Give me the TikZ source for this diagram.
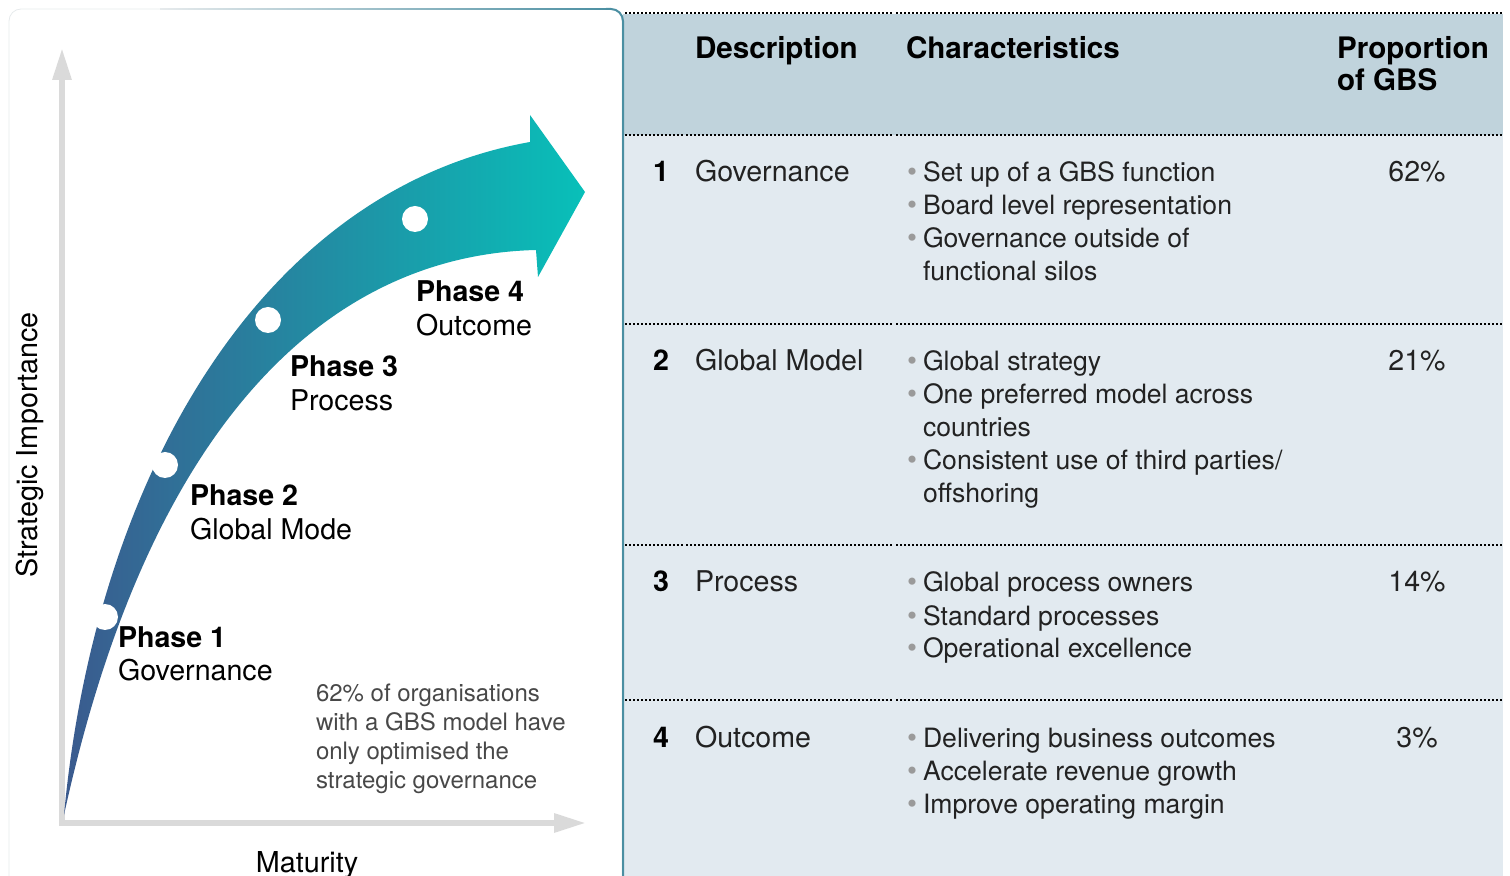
\documentclass[tikz,border=0pt]{standalone}
\usepackage{fontspec}
\setmainfont{TeX Gyre Heros}
\usetikzlibrary{arrows.meta}
\usetikzlibrary{positioning}

\definecolor{axisgray}{HTML}{DADADA}
\definecolor{curvestart}{HTML}{3B5A8E}
\definecolor{curveend}{HTML}{08C0B9}
\definecolor{headfill}{HTML}{C0D3DC}
\definecolor{bodyfill}{HTML}{E2EAF0}
\definecolor{edgeteal}{HTML}{4B8FA2}
\definecolor{panelline}{HTML}{E6EAEC}
\definecolor{dotgray}{HTML}{9A9A9A}
\definecolor{notegray}{HTML}{484848}
\definecolor{bodytext}{HTML}{222222}

\newcommand{\bul}{\makebox[8pt][l]{\textcolor{dotgray}{\fontsize{14.3}{16.5}\selectfont•}}}
\newcommand{\cont}{\hspace*{8pt}}

\begin{document}
\begin{tikzpicture}[
  x=0.5pt, y=-0.5pt,
  every node/.style={inner sep=0, outer sep=0},
  % multi-line nodes sit on the baseline of their last line
  txt/.style={font=\fontsize{14.3}{16.5}\selectfont, text=bodytext, anchor=base west, align=left},
  items/.style={txt, font=\fontsize{13.3}{16.5}\selectfont},
  hdr/.style={font=\fontsize{14.8}{16}\selectfont\bfseries, anchor=base west, align=left},
  num/.style={font=\fontsize{14.3}{16.5}\selectfont\bfseries, anchor=base},
  pct/.style={txt, anchor=base},
  phase/.style={font=\fontsize{14.3}{17}\selectfont, anchor=base west, align=left},
  note/.style={font=\fontsize{12}{14.5}\selectfont, text=notegray, anchor=base west, align=left},
  axislabel/.style={font=\fontsize{14.4}{16}\selectfont},
  phasedot/.style={circle, fill=white, minimum size=13pt},
  axisline/.style={draw=axisgray, line width=3pt, {Triangle[length=16pt,width=9pt]}-{Triangle[length=16pt,width=9pt]}},
  rowrule/.style={dash pattern=on 1pt off 1pt, line width=1pt}
  ] %
    \useasboundingbox (0,0) rectangle (1510,876);
    % left panel
    \draw[panelline, rounded corners=6pt] (9,9) rectangle (622,900);
    \shade[left color=panelline, right color=edgeteal] (160,8.3) rectangle (612,9.7);
    % table
    \fill[headfill] (623,14) rectangle (1503,135);
    \fill[bodyfill] (623,135) rectangle (1503,876);
    \draw[edgeteal, line width=1pt, rounded corners=6pt] (606,9) -- (623,9) -- (623,880);
    \foreach \y in {13,135,324,545,700} {
      \draw[rowrule] (625,\y) -- (684,\y);
      \draw[rowrule] (686,\y) -- (894,\y);
      \draw[rowrule] (896,\y) -- (1326,\y);
      \draw[rowrule] (1328,\y) -- (1503,\y);
    }

    % axes
    \coordinate (origin) at (62,823);
    \coordinate (ytop) at (62,48);
    \coordinate (xend) at (586,823);
    \draw[axisline] (ytop) -- (origin) -- (xend);
    \node[axislabel, rotate=90] (ylab) at (30,445) {Strategic Importance};
    \node[axislabel, anchor=base] (xlab) at (307,872) {Maturity};

    % growth arrow
    \shade[left color=curvestart, right color=curveend]
      (64,815) .. controls (95,480) and (260,190) .. (530,142)
      -- (530,115) -- (585,192) -- (538,277) -- (536,250)
      .. controls (330,255) and (150,420) .. (64,815) -- cycle;
    \node[phasedot] (d1) at (105,617) {};
    \node[phasedot] (d2) at (165,465) {};
    \node[phasedot] (d3) at (268,320) {};
    \node[phasedot] (d4) at (415,219) {};

    \node[phase] (ph1) at (118,681) {\textbf{Phase 1}\\Governance};
    \node[phase] (ph2) at (190,540) {\textbf{Phase 2}\\Global Mode};
    \node[phase] (ph3) at (290,411) {\textbf{Phase 3}\\Process};
    \node[phase] (ph4) at (416,336) {\textbf{Phase 4}\\Outcome};
    \node[note] (remark) at (316,788) {62\% of organisations\\with a GBS model have\\only optimised the\\strategic governance};

    % header row
    \node[hdr] (hdesc) at (695,59) {Description};
    \node[hdr] (hchar) at (906,59) {Characteristics};
    \node[hdr] (hprop) at (1337,91) {Proportion\\of GBS};

    % rows
    \node[num] (n1) at (661,182) {1};
    \node[txt] (r1) at (695,182) {Governance};
    \node[items] (c1) at (907,281) {\bul Set up of a GBS function\\\bul Board level representation\\\bul Governance outside of\\\cont functional silos};
    \node[pct] (p1) at (1417,182) {62\%};

    \node[num] (n2) at (661,371) {2};
    \node[txt] (r2) at (695,371) {Global Model};
    \node[items] (c2) at (907,503) {\bul Global strategy\\\bul One preferred model across\\\cont countries\\\bul Consistent use of third parties/\\\cont offshoring};
    \node[pct] (p2) at (1417,371) {21\%};

    \node[num] (n3) at (661,592) {3};
    \node[txt] (r3) at (695,592) {Process};
    \node[items] (c3) at (907,658) {\bul Global process owners\\\bul Standard processes\\\bul Operational excellence};
    \node[pct] (p3) at (1417,592) {14\%};

    \node[num] (n4) at (661,747) {4};
    \node[txt] (r4) at (695,747) {Outcome};
    \node[items] (c4) at (907,813) {\bul Delivering business outcomes\\\bul Accelerate revenue growth\\\bul Improve operating margin};
    \node[pct] (p4) at (1417,747) {3\%};
  \end{tikzpicture}
\end{document}
